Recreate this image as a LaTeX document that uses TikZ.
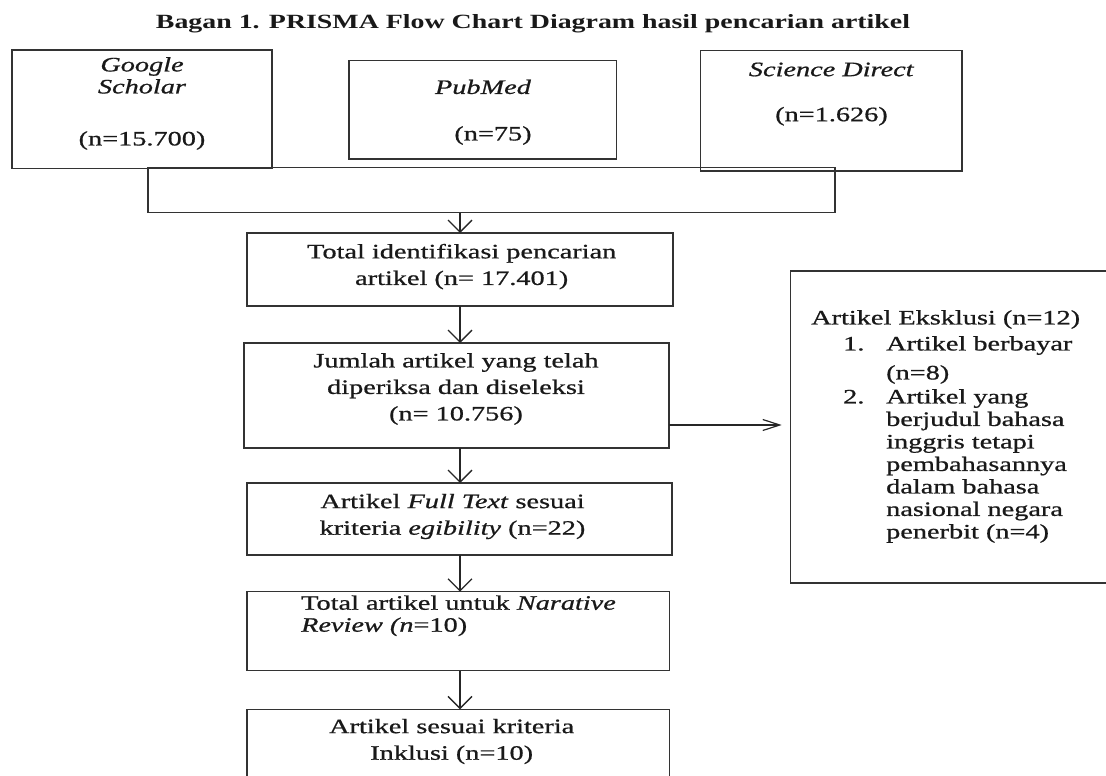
\documentclass[tikz,border=0pt]{standalone}
\usepackage{fontspec}
\setmainfont{Liberation Serif}[FakeStretch=1.38, UprightFeatures={FakeBold=0.8}, ItalicFeatures={FakeBold=0.8}]
\usetikzlibrary{arrows.meta}
\tikzset{
  box/.style={draw=black!80, line width=1.3pt, inner sep=0pt, outer sep=0pt},
  txt/.style={inner sep=0pt, font=\fontsize{20.5}{22}\selectfont, align=center, text=black!90},
  ttl/.style={inner sep=0pt, font=\fontsize{20.2}{22}\selectfont\bfseries, text=black!90},
  varrow/.style={draw=black!85, line width=1.3pt, -{Straight Barb[length=12pt,width=24pt,line width=1.3pt]}},
  harrow/.style={draw=black!85, line width=1.2pt, -{Straight Barb[length=17pt,width=11pt,line width=1.2pt]}, shorten >=9pt}
}
\begin{document}
\begin{tikzpicture}[x=1pt,y=-1pt]
\useasboundingbox (0,0) rectangle (1106,776);
% title
\node[ttl] (title) at (533,24) {Bagan 1. PRISMA Flow Chart Diagram hasil pencarian artikel};
% source boxes
\node[box, minimum width=260pt, minimum height=118.5pt] (gs) at (142,109.25) {};
\node[box, minimum width=267.5pt, minimum height=98.3pt] (pm) at (482.75,109.85) {};
\node[box, minimum width=261.4pt, minimum height=120.5pt] (sd) at (831.3,110.75) {};
\node[box, minimum width=687pt, minimum height=45pt] (wide) at (491.5,190) {};
\node[txt, anchor=north] (gst) at (142,57) {\textit{Google}\\\textit{Scholar}\\[30pt](n=15.700)};
\node[txt, anchor=north] (pmt) at (483,79.5) {\textit{PubMed}\\[24.5pt]\hspace*{20pt}(n=75)};
\node[txt, anchor=north] (sdt) at (831.5,62.4) {\textit{Science Direct}\\[23pt](n=1.626)};
% main column
\node[box, minimum width=426pt, minimum height=73pt] (tot) at (460,269.5) {};
\node[box, minimum width=425pt, minimum height=105pt] (jml) at (456.5,395.5) {};
\node[box, minimum width=425pt, minimum height=72pt] (ft) at (459.5,519) {};
\node[box, minimum width=422.5pt, minimum height=79pt] (nr) at (458.25,631.2) {};
\node[box, minimum width=422.5pt, minimum height=91.4pt] (fin) at (458.25,755) {};
\node[txt, anchor=north] (tott) at (461.7,243.7) {Total identifikasi pencarian\\[4.6pt]artikel (n= 17.401)};
\node[txt, anchor=north] (jmlt) at (456,353) {Jumlah artikel yang telah\\[4.5pt]diperiksa dan diseleksi\\[4.5pt](n= 10.756)};
\node[txt, anchor=north] (ftt) at (452.5,493.7) {Artikel \textit{Full Text} sesuai\\[4.6pt]kriteria \textit{egibility} (n=22)};
\node[txt, anchor=north west, align=left] (nrt) at (301,595.3) {Total artikel untuk \textit{Narative}\\\textit{Review (n}=10)};
\node[txt, anchor=north] (fint) at (451.7,718.7) {Artikel sesuai kriteria\\[4.6pt]Inklusi (n=10)};
% exclusion box
\node[box, minimum width=329.3pt, minimum height=312pt] (exc) at (955.35,427) {};
\node[txt, anchor=north west, align=left, font=\fontsize{20.5}{22.5}\selectfont] (exct) at (811,310) {%
Artikel Eksklusi (n=12)\\[3.5pt]
\hspace*{32pt}\makebox[43pt][l]{1.}Artikel berbayar\\[6.5pt]
\hspace*{75pt}(n=8)\\[1.5pt]
\hspace*{32pt}\makebox[43pt][l]{2.}Artikel yang\\
\hspace*{75pt}berjudul bahasa\\
\hspace*{75pt}inggris tetapi\\
\hspace*{75pt}pembahasannya\\
\hspace*{75pt}dalam bahasa\\
\hspace*{75pt}nasional negara\\
\hspace*{75pt}penerbit (n=4)};
% connectors
\coordinate (ax) at (460,0);
\coordinate (ay) at (0,425);
\draw[varrow] (wide.south -| ax) -- (tot.north -| ax);
\draw[varrow] (tot.south -| ax) -- (jml.north -| ax);
\draw[varrow] (jml.south -| ax) -- (ft.north -| ax);
\draw[varrow] (ft.south -| ax) -- (nr.north -| ax);
\draw[varrow] (nr.south -| ax) -- (fin.north -| ax);
\draw[harrow] (jml.east |- ay) -- (exc.west |- ay);
\end{tikzpicture}
\end{document}
